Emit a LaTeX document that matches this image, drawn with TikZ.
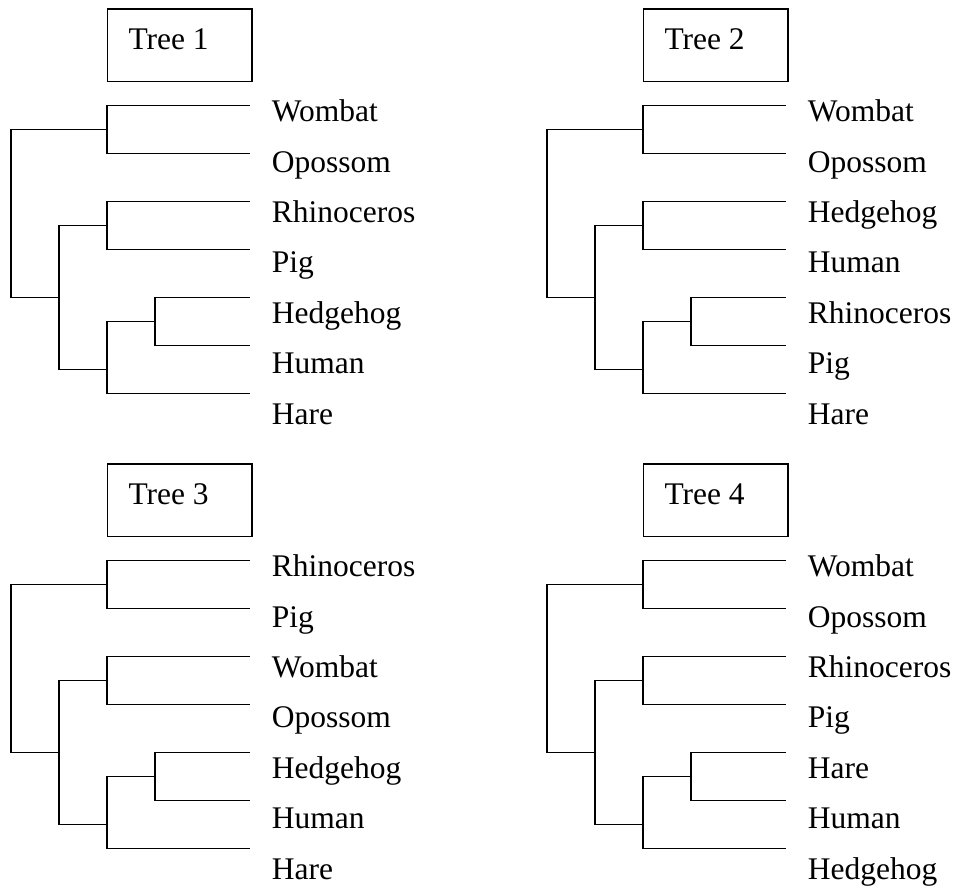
\documentclass[tikz,border=0pt]{standalone}
\usepackage{fontspec}
\setmainfont{Liberation Serif}

\tikzset{
  branch/.style={line width=1.6pt},
  taxon/.style={anchor=base west, inner sep=0pt, font=\fontsize{31.5}{36}\selectfont},
  treebox/.style={draw, line width=1.6pt, anchor=north west, inner sep=0pt,
                  minimum width=144.3pt, minimum height=72.4pt}
}

\begin{document}
\begin{tikzpicture}[x=1pt, y=-1pt]
    \useasboundingbox (0,0) rectangle (955,888);
    \foreach \n/\sx/\sy/\la/\lb/\lc/\ld/\le/\lf/\lg in {
        1/0/0/Wombat/Opossom/Rhinoceros/Pig/Hedgehog/Human/Hare,
        2/536/0/Wombat/Opossom/Hedgehog/Human/Rhinoceros/Pig/Hare,
        3/0/455/Rhinoceros/Pig/Wombat/Opossom/Hedgehog/Human/Hare,
        4/536/455/Wombat/Opossom/Rhinoceros/Pig/Hare/Human/Hedgehog} {
    \begin{scope}[shift={(\sx,\sy)}]
        \node[treebox] (t\n box) at (106.7,8.3) {};
        \node[taxon] (t\n title) at (128.3,49.3) {Tree \n};
        % leaf ends
        \coordinate (t\n l1) at (250,105.5);
        \coordinate (t\n l2) at (250,153.5);
        \coordinate (t\n l3) at (250,201.5);
        \coordinate (t\n l4) at (250,249.5);
        \coordinate (t\n l5) at (250,297.5);
        \coordinate (t\n l6) at (250,345.5);
        \coordinate (t\n l7) at (250,393.5);
        % joints
        \coordinate (t\n ab) at (106.7,129.5);
        \coordinate (t\n cd) at (106.7,225.5);
        \coordinate (t\n ef) at (155,321.5);
        \coordinate (t\n efg) at (106.7,369.3);
        \coordinate (t\n inner) at (59,297.3);
        \coordinate (t\n root) at (11,297.3);
        \draw[branch] (t\n l1) -| (t\n ab) |- (t\n l2);
        \draw[branch] (t\n l3) -| (t\n cd) |- (t\n l4);
        \draw[branch] (t\n l5) -| (t\n ef) |- (t\n l6);
        \draw[branch] (t\n ef) -| (t\n efg) |- (t\n l7);
        \draw[branch] (t\n cd) -| (t\n inner) |- (t\n efg);
        \draw[branch] (t\n ab) -| (t\n root) -- (t\n inner);
        % names
        \node[taxon] (t\n n1) at (271.7,121.7) {\la};
        \node[taxon] (t\n n2) at (271.7,172.1) {\lb};
        \node[taxon] (t\n n3) at (271.7,222.5) {\lc};
        \node[taxon] (t\n n4) at (271.7,272.9) {\ld};
        \node[taxon] (t\n n5) at (271.7,323.3) {\le};
        \node[taxon] (t\n n6) at (271.7,373.7) {\lf};
        \node[taxon] (t\n n7) at (271.7,424.1) {\lg};
    \end{scope}
    }
\end{tikzpicture}
\end{document}
